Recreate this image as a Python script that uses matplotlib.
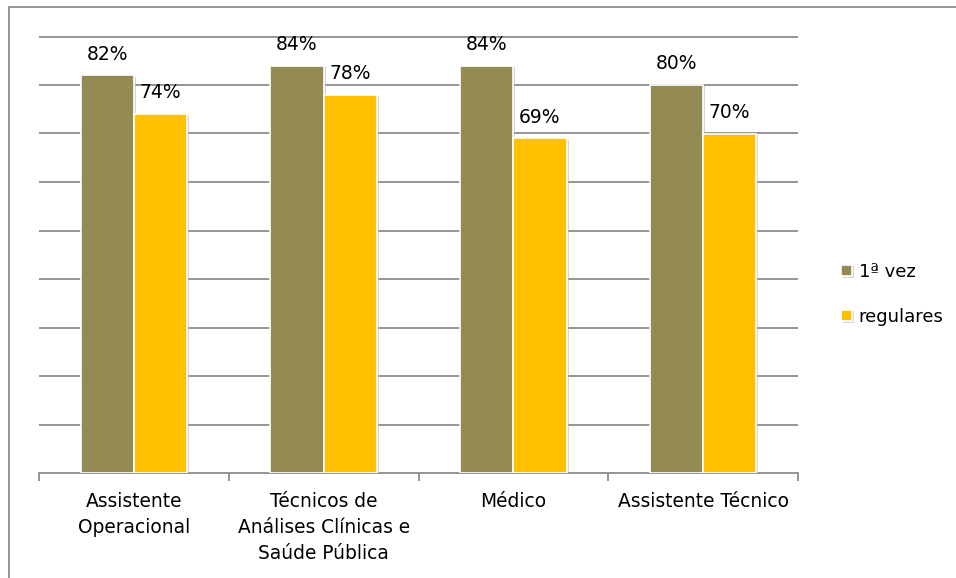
import numpy as np
import matplotlib.pyplot as plt
from matplotlib.patches import Rectangle
import matplotlib.patheffects as pe

categorias = ['Assistente\nOperacional',
              'Técnicos de\nAnálises Clínicas e\nSaúde Pública',
              'Médico',
              'Assistente Técnico']
primeira_vez = [0.82, 0.84, 0.84, 0.80]
regulares = [0.74, 0.78, 0.69, 0.70]
series = ['1ª vez', 'regulares']
cores = ['#948A54', '#FFC000']

plt.rcParams['font.family'] = ['DejaVu Sans']

y_topo = 0.92
px_por_unidade = 485
fig = plt.figure(figsize=(9.56, 5.78), dpi=100)
ax = fig.add_axes([39/956, 1 - 473/578, (798 - 39)/956, y_topo * px_por_unidade/578])

# moldura exterior (só esquerda e topo visíveis)
fig.patches.append(Rectangle((9/956, -0.1), 1.2, 1 - 7/578 + 0.1,
                             transform=fig.transFigure, fill=False,
                             edgecolor='#8c8c8c', linewidth=1.3))

x = np.arange(len(categorias))
larg = 0.28
sombra = [pe.SimplePatchShadow(offset=(1.5, -1), shadow_rgbFace='#bbbbbb', alpha=0.6), pe.Normal()]

for i, (vals, cor, nome) in enumerate(zip([primeira_vez, regulares], cores, series)):
    pos = x + (i - 0.5) * larg
    barras = ax.bar(pos, vals, width=larg, color=cor, edgecolor='white',
                    linewidth=1.2, label=nome, zorder=3)
    for b in barras:
        b.set_path_effects(sombra)
    for p, v in zip(pos, vals):
        ax.text(p, v + 0.024, '{:.0f}%'.format(v * 100), ha='center', va='bottom',
                fontsize=13.5, color='black', zorder=4)

ax.set_xlim(-0.5, len(categorias) - 0.5)
ax.set_ylim(0, y_topo)
ax.set_yticks(np.arange(0.1, 0.91, 0.1))
ax.yaxis.grid(True, color='#8c8c8c', linewidth=1.3, zorder=0)
ax.tick_params(axis='y', left=False, labelleft=False)

ax.set_xticks(x)
ax.set_xticklabels(categorias, fontsize=13.4, linespacing=1.45)
ax.set_xticks(np.arange(-0.5, len(categorias)), minor=True)
ax.tick_params(axis='x', which='major', length=0, pad=14)
ax.tick_params(axis='x', which='minor', length=6, width=1.3, color='#8c8c8c')

for s in ['top', 'right', 'left']:
    ax.spines[s].set_visible(False)
ax.spines['bottom'].set_color('#8c8c8c')
ax.spines['bottom'].set_linewidth(1.3)

ax.legend(loc='center left', bbox_to_anchor=(1.035, 0.40), frameon=False,
          fontsize=13, handlelength=0.6, handleheight=0.6, handletextpad=0.4,
          labelspacing=1.5)

fig.savefig('out.png', dpi=100)
